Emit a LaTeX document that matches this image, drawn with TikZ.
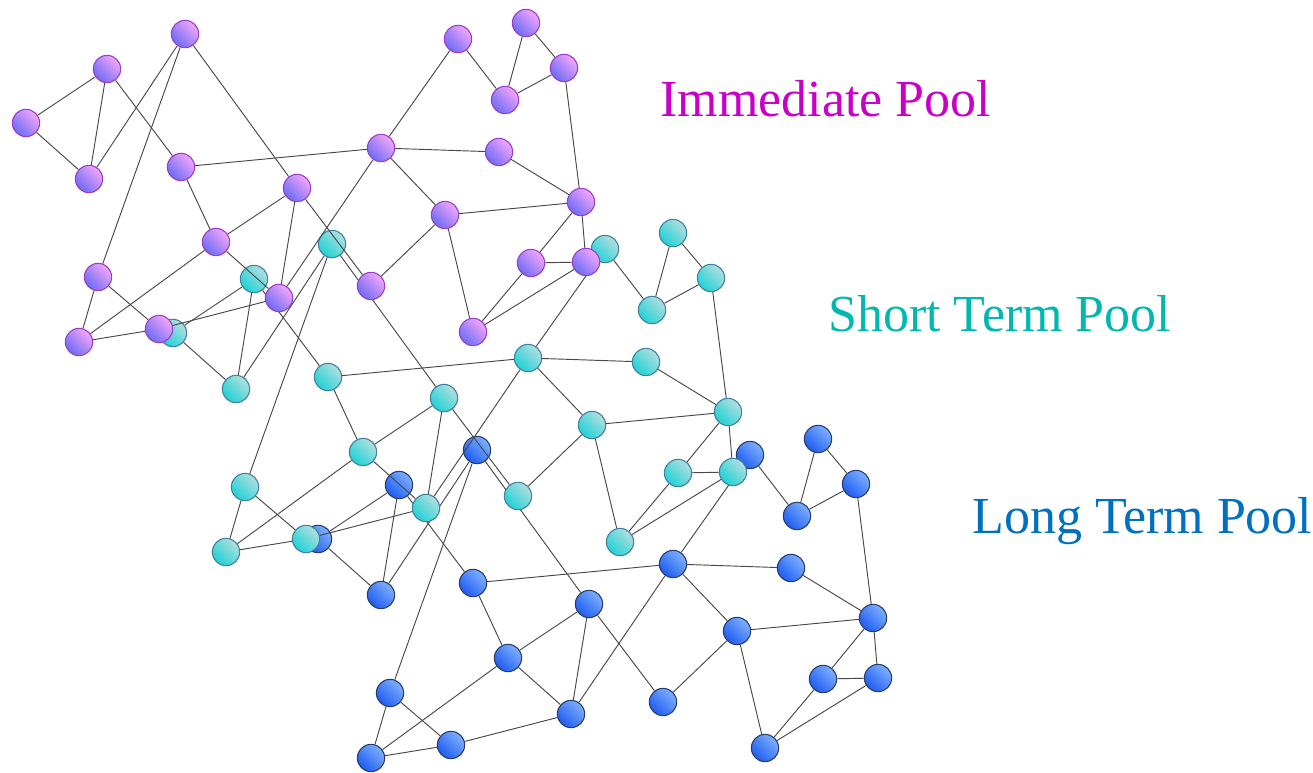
\documentclass[tikz,border=0pt]{standalone}
\usepackage{fontspec}
\setmainfont{Liberation Serif}
\begin{document}
\begin{tikzpicture}[x=0.75pt,y=-0.75pt,
  link/.style={draw=black!72, line width=0.7pt},
  cell/.style={circle, inner sep=0pt, minimum size=20.5pt, draw=#1Rim, line width=0.8pt,
    left color=#1Hi, right color=#1Lo, shading angle=-45},
  poolname/.style={anchor=base west, inner sep=0pt, font=\fontsize{39}{39}\selectfont}]
  \definecolor{IHi}{HTML}{F4A6FA}
  \definecolor{ILo}{HTML}{6C6CF4}
  \definecolor{IRim}{HTML}{9A3CC8}
  \definecolor{SHi}{HTML}{B4DEDE}
  \definecolor{SLo}{HTML}{1ED2D6}
  \definecolor{SRim}{HTML}{3F7FA0}
  \definecolor{LHi}{HTML}{7EB0FF}
  \definecolor{LLo}{HTML}{1E5CF0}
  \definecolor{LRim}{HTML}{2A3C66}
  \definecolor{ITxt}{HTML}{C800C8}
  \definecolor{STxt}{HTML}{00B8B0}
  \definecolor{LTxt}{HTML}{0070C0}
  \useasboundingbox (0,0) rectangle (1313,773);
  % same network three times, long term at the bottom, immediate on top
  \foreach \pool/\dx/\dy in {L/292/416, S/147/210, I/0/0}{
    \begin{scope}[shift={(\dx,\dy)}]
      \foreach \n/\x/\y in {a/26/123, b/107/69, c/89/179, d/185/34, e/181/167,
          f/216/242, g/98/277, h/79/342, i/159/329, j/297/188, k/279/298,
          l/381/148, m/458/39, n/526/23, o/564/68, p/505/100, q/499/152,
          r/581/202, s/445/215, t/371/286, u/531/263, v/586/262, w/473/332}
        \node[cell=\pool] (\pool\n) at (\x,\y) {};
      \foreach \s/\t in {a/b, a/c, b/c, b/e, c/d, d/g, d/j, e/l, e/f, f/j, f/h, f/k,
          g/h, g/i, h/i, i/k, j/k, j/t, k/l, m/l, m/p, n/p, n/o, o/p, o/r, l/q,
          q/r, l/s, s/r, s/t, s/w, r/u, r/v, u/v, u/w, v/w}
        \draw[link] (\pool\s) -- (\pool\t);
    \end{scope}
  }
  \node[poolname, ITxt] (imm) at (660,117) {Immediate Pool};
  \node[poolname, STxt] (short) at (828,332) {Short Term Pool};
  \node[poolname, LTxt] (long) at (972,533) {Long Term Pool};
\end{tikzpicture}
\end{document}
